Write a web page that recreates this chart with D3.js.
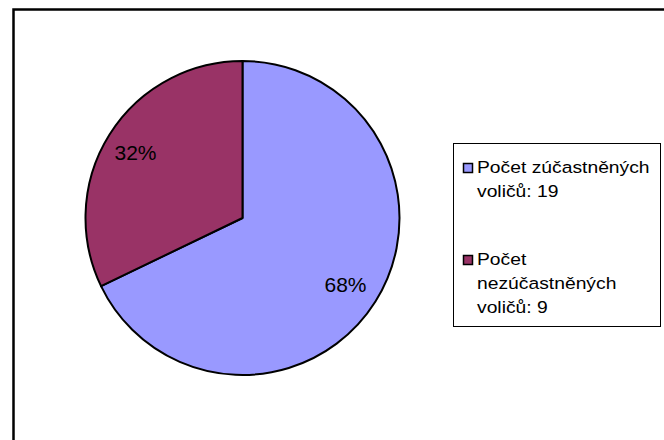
<!DOCTYPE html>
<html>
<head>
<meta charset="utf-8">
<script src="https://cdn.jsdelivr.net/npm/d3@7"></script>
<style>
    body { margin: 0; background: #fff; }
    svg { display: block; }
    .pctLabel { font-family: "Liberation Sans", Arial, sans-serif; font-size: 21px; fill: #000; }
    .legendText { font-family: "Liberation Sans", Arial, sans-serif; font-size: 16.5px; fill: #000; }
</style>
</head>
<body>
<div id="chart"><svg width="664" height="440"></svg></div>
<script>

// data
const categories = ["Počet zúčastněných voličů", "Počet nezúčastněných voličů"];
const values = [19, 9];
const colors = ["#9999FF", "#993366"];

function makeChart() {

    /**********************
    ***** BASIC SETUP *****
    **********************/

    const width = 664;
    const height = 440;
    const svg = d3.select("#chart").select("svg");

    const cx = 242.5, cy = 218, radius = 157;
    const total = d3.sum(values);

    // outer chart border (runs off the right and bottom edges)
    svg.append("rect")
        .attr("x", 13.5)
        .attr("y", 9.5)
        .attr("width", width + 40)
        .attr("height", height + 40)
        .attr("fill", "none")
        .attr("stroke", "#000")
        .attr("stroke-width", 2.5);

    /**************
    ***** PIE *****
    **************/

    const data = categories.map((c, i) => ({name: c, value: values[i], color: colors[i]}));

    const pie = d3.pie()
        .sort(null)
        .value(d => d.value);

    const arc = d3.arc()
        .innerRadius(0)
        .outerRadius(radius);

    const labelArc = d3.arc()
        .innerRadius(124)
        .outerRadius(124);

    const plot = svg.append("g")
        .attr("transform", `translate(${cx}, ${cy})`);

    const arcs = pie(data);

    plot.selectAll(".slice")
        .data(arcs)
        .enter()
        .append("path")
        .attr("class", "slice")
        .attr("d", arc)
        .attr("fill", d => d.data.color)
        .attr("stroke", "#000")
        .attr("stroke-width", 2)
        .attr("stroke-linejoin", "round");

    plot.selectAll(".pctLabel")
        .data(arcs)
        .enter()
        .append("text")
        .attr("class", "pctLabel")
        .attr("x", d => labelArc.centroid(d)[0] - 2)
        .attr("y", d => labelArc.centroid(d)[1])
        .attr("dy", "0.4em")
        .attr("text-anchor", "middle")
        .text(d => d3.format(".0%")(d.data.value / total));

    /*****************
    ***** LEGEND *****
    *****************/

    const legend = svg.append("g").attr("id", "legend");

    legend.append("rect")
        .attr("x", 453.5)
        .attr("y", 143.5)
        .attr("width", 207)
        .attr("height", 183)
        .attr("fill", "#fff")
        .attr("stroke", "#000")
        .attr("stroke-width", 1);

    const stretch = 1.17;
    const maxWidth = 178;
    const lineGap = 24;

    data.forEach((d, i) => {
        const baseY = 173 + i * 92;

        legend.append("rect")
            .attr("x", 463.5)
            .attr("y", baseY - 9.5)
            .attr("width", 9)
            .attr("height", 9)
            .attr("fill", d.color)
            .attr("stroke", "#000")
            .attr("stroke-width", 1.5);

        // wrap the label into lines that fit the legend box
        const words = (d.name + ": " + d.value).split(" ");
        const probe = legend.append("text").attr("class", "legendText");
        const lines = [];
        let line = [];
        words.forEach(w => {
            line.push(w);
            probe.text(line.join(" "));
            if (probe.node().getComputedTextLength() * stretch > maxWidth && line.length > 1) {
                line.pop();
                lines.push(line.join(" "));
                line = [w];
            }
        });
        lines.push(line.join(" "));
        probe.remove();

        lines.forEach((l, j) => {
            legend.append("text")
                .attr("class", "legendText")
                .attr("transform", `translate(477, ${baseY + j * lineGap}) scale(${stretch}, 1)`)
                .text(l);
        });
    });
}

makeChart();
</script>
</body>
</html>
